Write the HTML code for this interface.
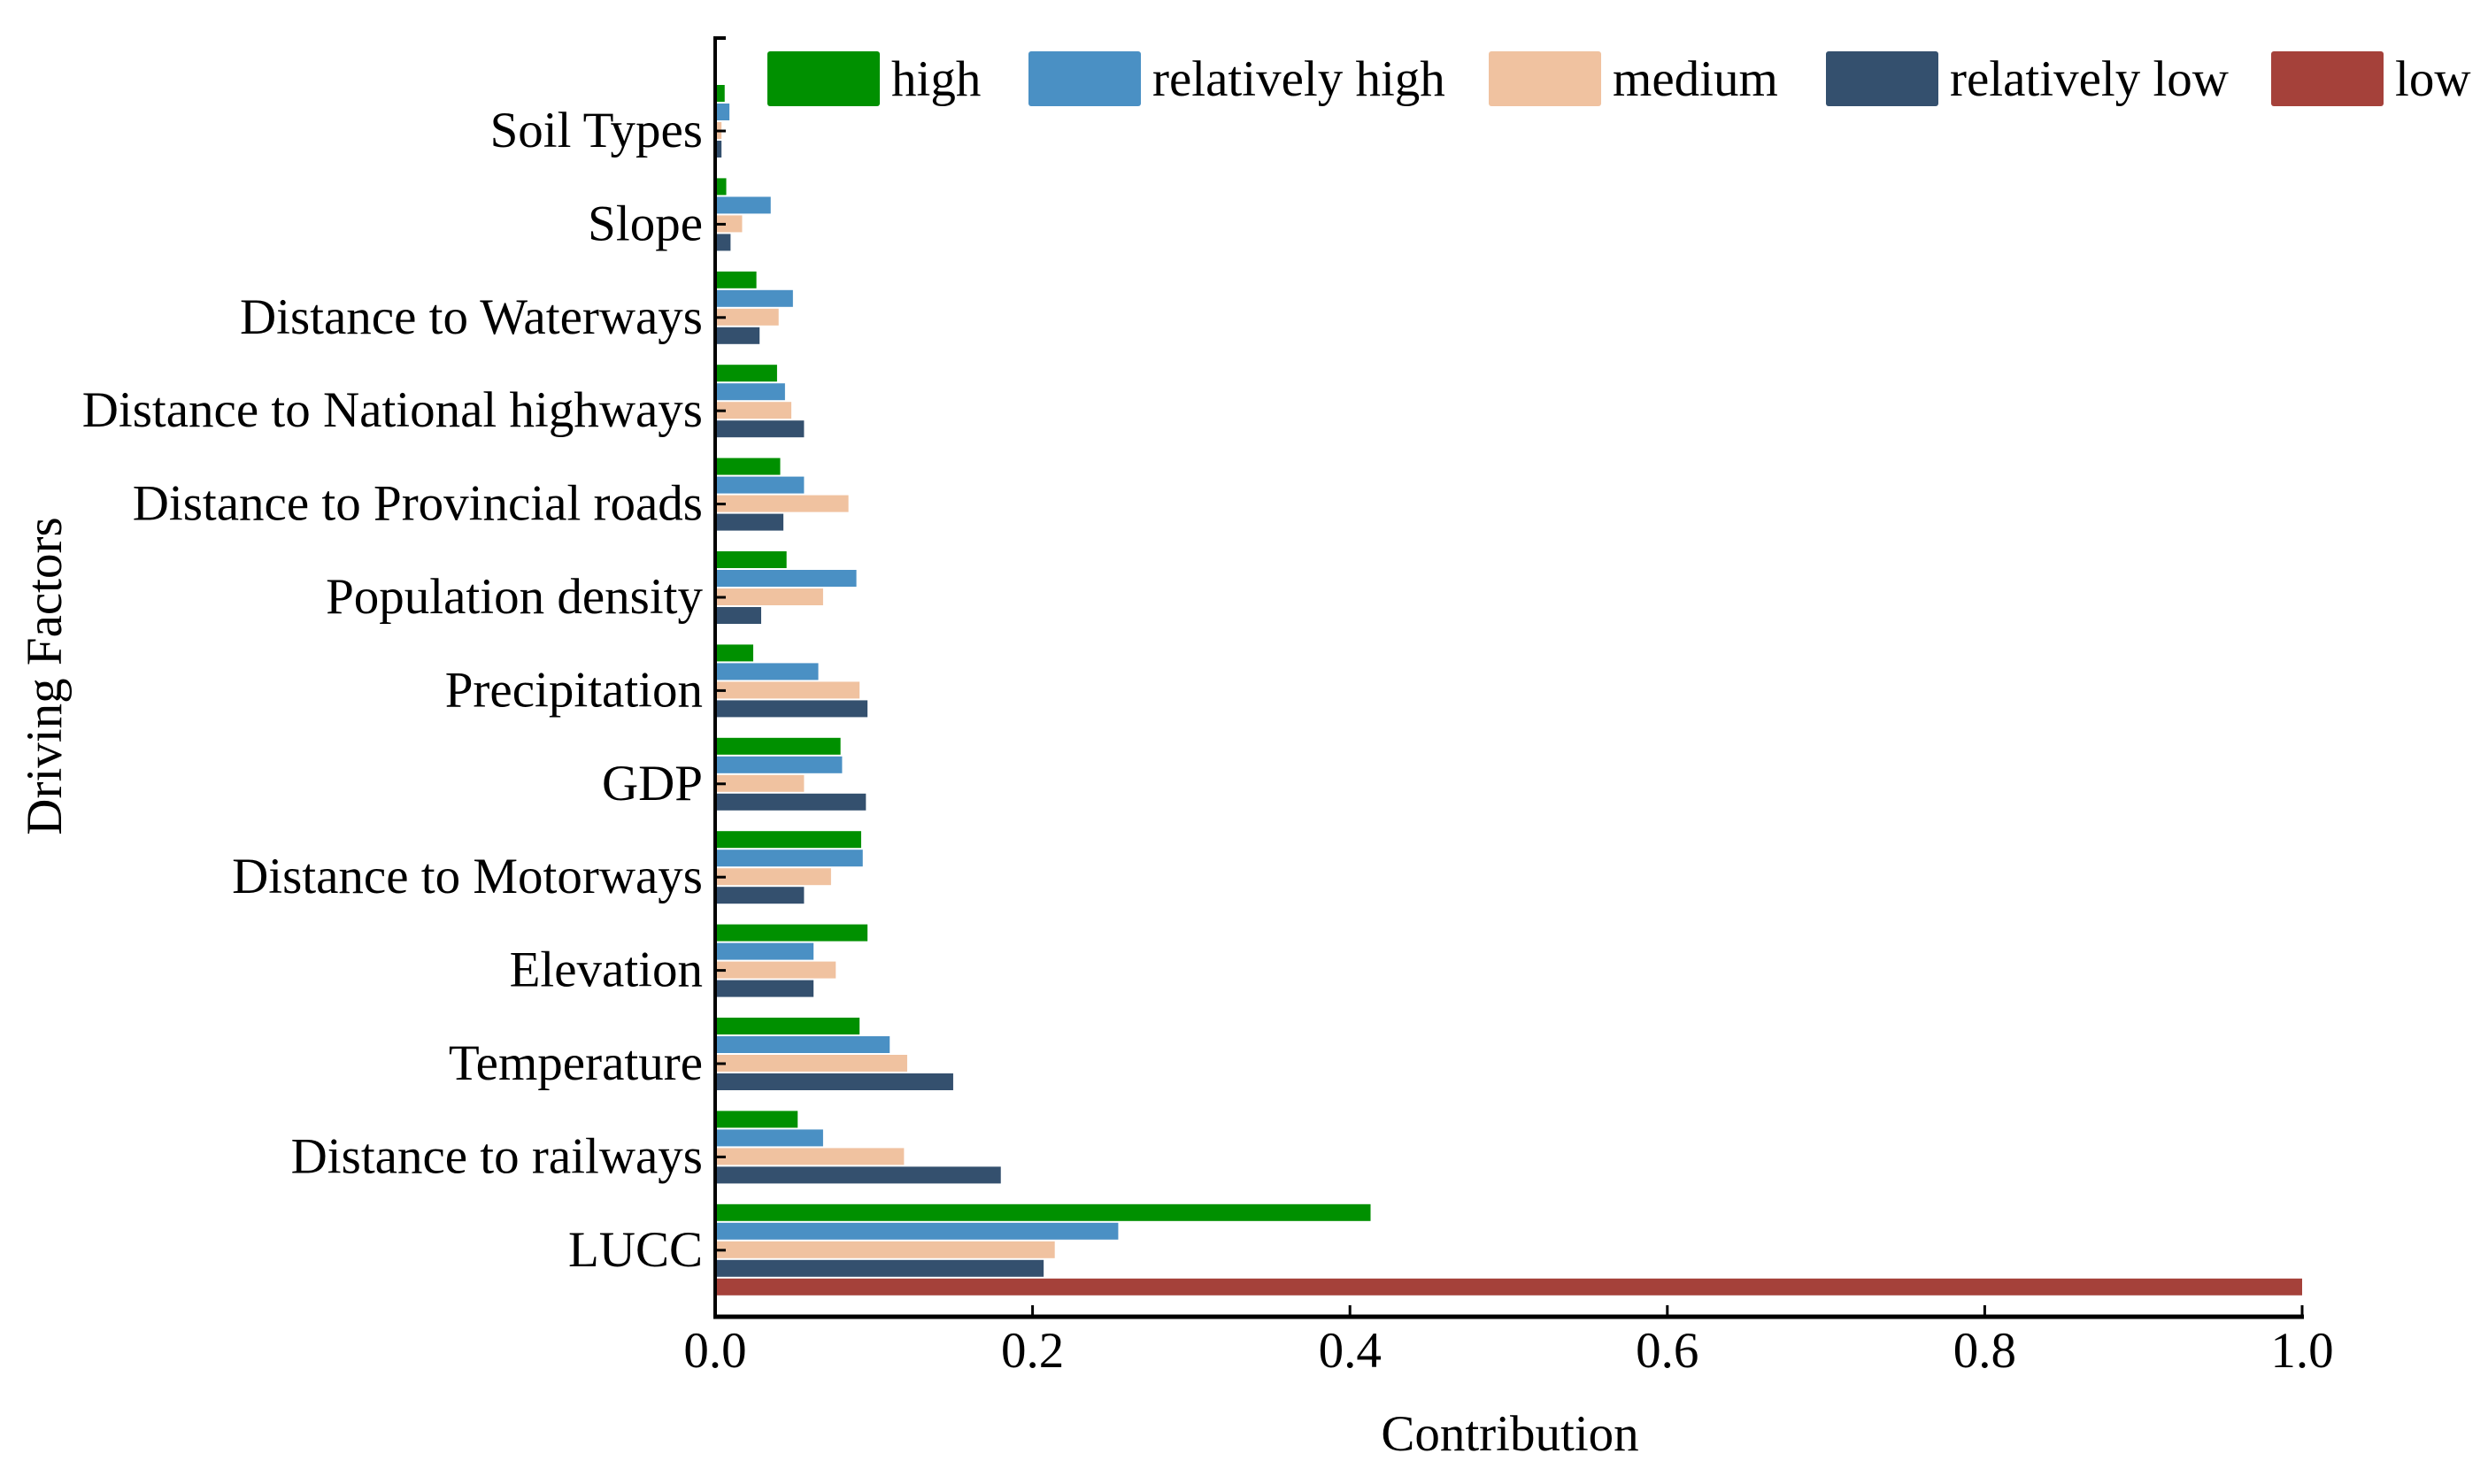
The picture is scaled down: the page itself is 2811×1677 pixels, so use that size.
<!DOCTYPE html>
<html><head><meta charset="utf-8"><style>html,body{margin:0;padding:0;background:#fff}svg{display:block}text{font-family:"Liberation Serif",serif;fill:#000}</style></head>
<body>
<svg id="chart" width="2811" height="1677" viewBox="0 0 2811 1677" xmlns="http://www.w3.org/2000/svg"></svg>
<script>
const categories = ["Soil Types","Slope","Distance to Waterways","Distance to National highways","Distance to Provincial roads","Population density","Precipitation","GDP","Distance to Motorways","Elevation","Temperature","Distance to railways","LUCC"];
const seriesNames = ["high","relatively high","medium","relatively low","low"];
const highVals = [0.006,0.007,0.026,0.039,0.041,0.045,0.024,0.079,0.092,0.096,0.091,0.052,0.413];
const relHighVals = [0.009,0.035,0.049,0.044,0.056,0.089,0.065,0.080,0.093,0.062,0.110,0.068,0.254];
const mediumVals = [0.004,0.017,0.040,0.048,0.084,0.068,0.091,0.056,0.073,0.076,0.121,0.119,0.214];
const relLowVals = [0.004,0.0097,0.028,0.056,0.043,0.029,0.096,0.095,0.056,0.062,0.150,0.180,0.207];
const lowVals = [0,0,0,0,0,0,0,0,0,0,0,0,1.0];
const xTicks = [0,0.2,0.4,0.6,0.8,1.0];
const xTickLabels = ["0.0","0.2","0.4","0.6","0.8","1.0"];

const colors = ["#009000","#4a90c4","#f0c2a0","#34506e","#a5413a"];
const allSeries = [highVals,relHighVals,mediumVals,relLowVals,lowVals];
const NS="http://www.w3.org/2000/svg";
const svg=document.getElementById('chart');
const x0=808, x1=2601, yTop=41, yAxis=1488;
const catY0=148, catStep=105.4;
const xs=v=>x0+v*(x1-x0);
const ys=i=>catY0+i*catStep;
function mk(tag,attrs,parent){const e=document.createElementNS(NS,tag);for(const k in attrs)e.setAttribute(k,attrs[k]);(parent||svg).appendChild(e);return e;}

const barsG=mk('g',{});


allSeries.forEach((vals,s)=>{
  vals.forEach((v,i)=>{
    if(v<=0)return;
    const r=mk('rect',{x:x0,y:ys(i)-52+s*21,width:xs(v)-x0,height:19,fill:colors[s]},barsG);
    
    
  });
});

const yAx=mk('path',{d:`M${x0} ${yTop} V${yAxis} M${x0} ${yTop+2} H${x0+12}`,stroke:'#000','stroke-width':4,fill:'none'});


const xAx=mk('line',{x1:x0-2,y1:yAxis,x2:x1+2,y2:yAxis,stroke:'#000','stroke-width':5});



categories.forEach((c,i)=>{
  const t=mk('line',{x1:x0,y1:ys(i),x2:x0+12,y2:ys(i),stroke:'#000','stroke-width':3});
  
  
  const l=mk('text',{x:794,y:ys(i)+18,'text-anchor':'end','font-size':57});
  l.textContent=c;
  
  
});
xTicks.forEach((v,i)=>{
  const t=mk('line',{x1:xs(v),y1:yAxis,x2:xs(v),y2:yAxis-13,stroke:'#000','stroke-width':3});
  
  
  const l=mk('text',{x:xs(v),y:1545,'text-anchor':'middle','font-size':57});
  l.textContent=xTickLabels[i];
  
  
});
const xt=mk('text',{x:1706,y:1639,'text-anchor':'middle','font-size':57});
xt.textContent='Contribution';


const yt=mk('text',{x:0,y:0,'text-anchor':'middle','font-size':57,transform:'translate(69 764) rotate(-90)'});
yt.textContent='Driving Factors';



const legX=[867,1162,1682,2063,2566];
seriesNames.forEach((n,s)=>{
  const g=mk('g',{});
  
  
  mk('rect',{x:legX[s],y:58,width:127,height:62,rx:3,fill:colors[s]},g);
  const t=mk('text',{x:legX[s]+140,y:108,'font-size':57},g);
  t.textContent=n;
});
</script>
</body></html>
